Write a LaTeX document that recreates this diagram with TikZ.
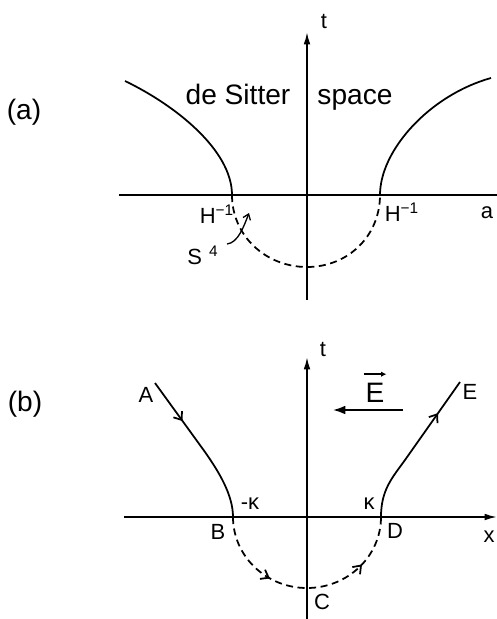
\documentclass[tikz,border=0pt]{standalone}
\usepackage{fontspec}
\setmainfont{Liberation Sans}
\usetikzlibrary{positioning,arrows.meta,decorations.markings}

\begin{document}
\begin{tikzpicture}[
	x=0.02cm, y=-0.02cm,
	axis/.style={line width=1pt, draw=black},
	axisarrow/.style={axis, -{Latex[length=7pt, width=3.8pt]}},
	world/.style={line width=1pt, draw=black},
	tunnel/.style={line width=1pt, draw=black, dash pattern=on 4pt off 2.6pt},
	pointer/.style={line width=0.75pt, draw=black, -{Straight Barb[length=3pt, width=4.5pt]}},
	field/.style={line width=1pt, draw=black, -{Latex[length=7pt, width=5pt]}},
	vecarrow/.style={line width=0.8pt, draw=black, -{Latex[length=3pt, width=3pt]}},
	midarrow/.style={postaction={decorate, decoration={markings, mark=at position #1 with {\arrow{Straight Barb[length=4pt, width=6pt]}}}}},
	label/.style={inner sep=1pt, font=\fontsize{12.5}{14}\selectfont},
	biglabel/.style={inner sep=1pt, font=\fontsize{16}{18}\selectfont},
	panel/.style={inner sep=1pt, font=\fontsize{16}{18}\selectfont}
]
\useasboundingbox (0,0) rectangle (497,619);

% panel (a)
\node (panelA) [panel] at (24,112) {(a)};
\coordinate (aTop) at (307,32);
\coordinate (aBot) at (307,300);
\coordinate (aLeft) at (119,195);
\coordinate (aRight) at (497,195);
\draw [axisarrow] (aBot) -- (aTop);
\draw [axis] (aLeft) -- (aRight);
\coordinate (aHl) at (232,195);
\coordinate (aHr) at (380,195);
\coordinate (aS) at (307,267);
\coordinate (aUL) at (125,81);
\coordinate (aUR) at (491,78);
\draw [world] (aUL) .. controls (175,105) and (232,150) .. (aHl);
\draw [world] (aHr) .. controls (380,150) and (430,95) .. (aUR);
\draw [tunnel] (aHl) .. controls (232,236) and (266,267) .. (aS) .. controls (348,267) and (380,236) .. (aHr);
\node (tA) [label] at (324,21) {t};
\node (aLab) [label] at (487,213) {a};
\node (deSitter) [biglabel, anchor=base] at (238,104) {de Sitter};
\node (space) [biglabel, anchor=base] at (355,104) {space};
\node (Hl) [label] at (217,214) {H\textsuperscript{−1}};
\node (Hr) [label] at (402,212) {H\textsuperscript{−1}};
\node (s4) [label] at (203,255) {S\hspace{4pt}\textsuperscript{4}};
\coordinate (s4tail) at (227,244);
\coordinate (s4tip) at (249,213);
\draw [pointer] (s4tail) .. controls (238,243) and (244,226) .. (s4tip);

% panel (b)
\node (panelB) [panel] at (25,404) {(b)};
\coordinate (bTop) at (307,357);
\coordinate (bBot) at (307,619);
\coordinate (bLeft) at (124,517);
\coordinate (bRight) at (497,517);
\draw [axisarrow] (bBot) -- (bTop);
\draw [axisarrow] (bLeft) -- (bRight);
\coordinate (pA) at (155,383);
\coordinate (pAB) at (205,452);
\coordinate (pB) at (233,517);
\coordinate (pC) at (307,588);
\coordinate (pD) at (381,517);
\coordinate (pDE) at (405,460);
\coordinate (pE) at (460,382);
\draw [world, midarrow=0.3] (pA) -- (pAB) .. controls (219,472) and (233,495) .. (pB);
\draw [world, midarrow=0.76] (pD) .. controls (381,490) and (392,478) .. (pDE) -- (pE);
\draw [tunnel, midarrow=0.33, midarrow=0.77] (pB) .. controls (233,556) and (266,588) .. (pC) .. controls (348,588) and (381,556) .. (pD);
\node (tB) [label] at (323,349) {t};
\node (xLab) [label] at (489,537) {x};
\node (labA) [label] at (146,395) {A};
\node (labB) [label] at (218,532) {B};
\node (labC) [label] at (322,602) {C};
\node (labD) [label] at (395,531) {D};
\node (labE) [label] at (470,392) {E};
\node (kapL) [label] at (250,504) {-κ};
\node (kapR) [label] at (369,504) {κ};
\node (Evec) [panel] at (375,393) {E};
\draw [vecarrow] ([yshift=4pt]Evec.north west) -- ([yshift=4pt]Evec.north east);
\coordinate (fTail) at (403,410);
\coordinate (fHead) at (333,410);
\draw [field] (fTail) -- (fHead);
\end{tikzpicture}
\end{document}
